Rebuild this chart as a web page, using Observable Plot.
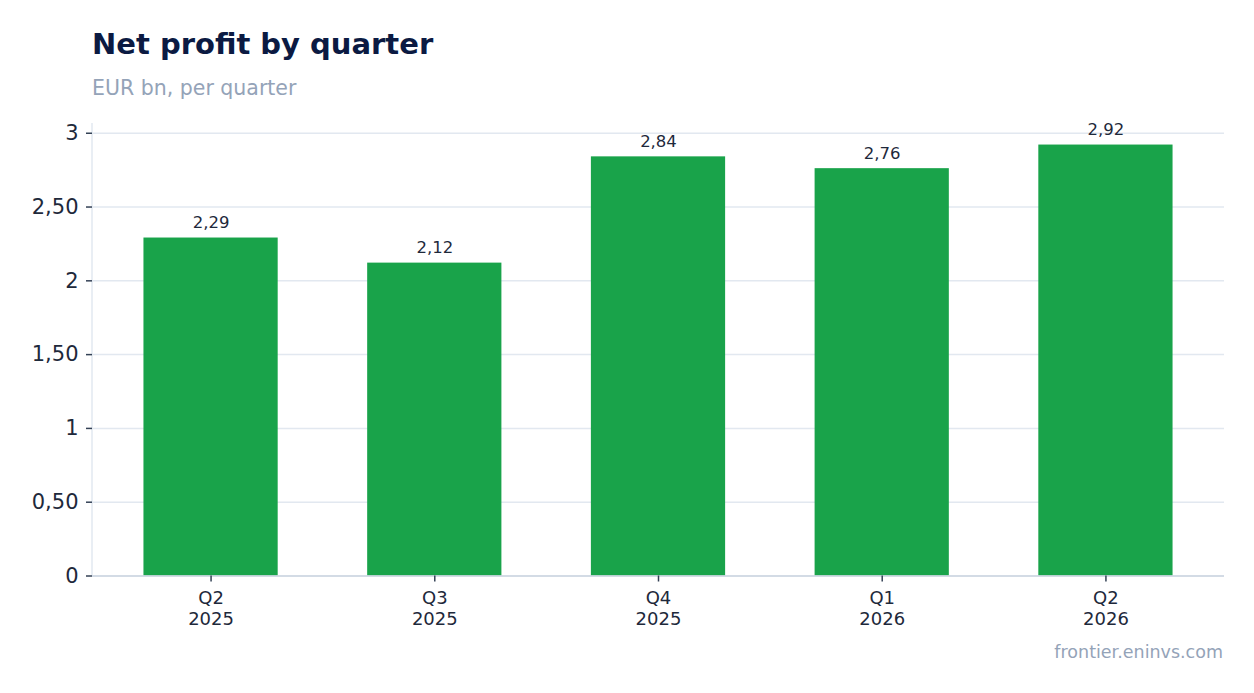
<!DOCTYPE html>
<html>
<head>
<meta charset="utf-8">
<script src="https://cdn.jsdelivr.net/npm/d3@7"></script>
<script src="https://cdn.jsdelivr.net/npm/@observablehq/plot@0.6"></script>
<style>
  html, body { margin: 0; padding: 0; background: #fff; }
  body { width: 1254px; height: 693px; position: relative; overflow: hidden; font-family: "DejaVu Sans", sans-serif; }
  #title { position: absolute; left: 92px; top: 24px; font-size: 29px; font-weight: bold; color: #0b1a42; line-height: 40px; white-space: nowrap; }
  #subtitle { position: absolute; left: 92px; top: 75px; font-size: 20.5px; color: #94a3b8; line-height: 26px; white-space: nowrap; }
  #chart { position: absolute; left: 0; top: 110px; }
  #caption { position: absolute; right: 31px; top: 640px; font-size: 17.5px; color: #94a3b8; line-height: 24px; white-space: nowrap; }
</style>
</head>
<body>
<div id="title">Net profit by quarter</div>
<div id="subtitle">EUR bn, per quarter</div>
<div id="chart"></div>
<div id="caption">frontier.eninvs.com</div>
<script>
const quarters = ["Q2\n2025", "Q3\n2025", "Q4\n2025", "Q1\n2026", "Q2\n2026"];
const profits = [2.29, 2.12, 2.84, 2.76, 2.92];
const yTicks = [0, 0.5, 1, 1.5, 2, 2.5, 3];

const data = quarters.map((q, i) => ({quarter: q, value: profits[i]}));
const fmtTick = d => Number.isInteger(d) ? String(d) : d.toFixed(2).replace(".", ",");
const fmtVal = d => d.toFixed(2).replace(".", ",");
const yMax = d3.max(profits) * 1.05;

const leftAxisLine = (index, scales, values, dims) => {
  const line = document.createElementNS("http://www.w3.org/2000/svg", "line");
  line.setAttribute("x1", dims.marginLeft);
  line.setAttribute("x2", dims.marginLeft);
  line.setAttribute("y1", scales.y(yMax));
  line.setAttribute("y2", scales.y(0));
  line.setAttribute("stroke", "#e2e8f0");
  line.setAttribute("stroke-width", 1.5);
  return line;
};

const chart = Plot.plot({
  width: 1254,
  height: 530,
  marginLeft: 92,
  marginRight: 30,
  marginTop: 13,
  marginBottom: 64.5,
  style: {fontFamily: "DejaVu Sans, sans-serif", background: "transparent", overflow: "visible"},
  x: {domain: quarters, paddingInner: 0.4, paddingOuter: 0.23, round: false, label: null},
  y: {domain: [0, yMax], label: null},
  marks: [
    Plot.gridY(yTicks, {stroke: "#e2e8f0", strokeOpacity: 1, strokeWidth: 1.5}),
    leftAxisLine,
    Plot.barY(data, {x: "quarter", y: "value", fill: "#19a34a"}),
    Plot.ruleY([0], {stroke: "#cbd5e1", strokeWidth: 1.5}),
    Plot.axisY(yTicks, {tickFormat: fmtTick, fontSize: 21, tickSize: 6, tickPadding: 8, stroke: "#334155", strokeWidth: 1.5, fill: "#1e293b", label: null}),
    Plot.axisX({tickSize: 6, tickPadding: 7, fontSize: 18, lineHeight: 1.18, stroke: "#334155", strokeWidth: 1.5, fill: "#1e293b", label: null}),
    Plot.text(data, {x: "quarter", y: "value", text: d => fmtVal(d.value), lineAnchor: "bottom", dy: -10, fontSize: 16.5, fill: "#1e293b"})
  ]
});
document.getElementById("chart").appendChild(chart);
</script>
</body>
</html>
